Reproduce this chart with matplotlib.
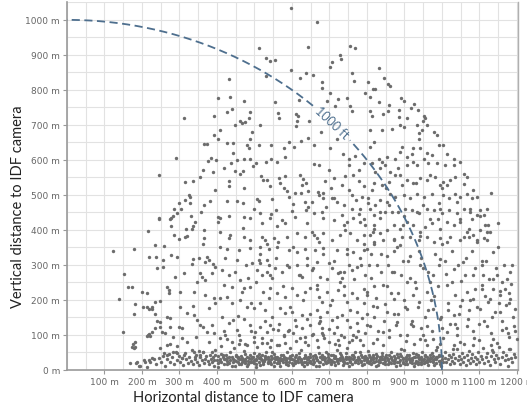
import numpy as np
import matplotlib.pyplot as plt

# detections (horizontal m, vertical m)
far_pts = [(312,720),(392,726),(403,777),(597,1034),(667,994),(512,920),(531,891),(541,883),(555,886),
           (643,923),(755,926),(768,920),(728,900),(731,889),(707,880),(701,866),(597,857),(637,849),
           (656,843),(621,834),(432,831),(531,840),(760,849),(765,826),(680,823),(680,806),(803,823),
           (435,780),(472,769),(555,766),(619,771),(701,791),(723,774),(747,777),(795,791),(693,769),
           (715,754),(755,754),(760,740),(427,737),(440,746),(488,737),(485,720),(563,734),(565,720),
           (611,731),(616,726),(645,711),(613,711),(461,711),(475,709),(832,863),(845,834),(856,817),
           (861,811),(816,803),(821,803),(808,780),(832,766),(891,777),(899,769),(925,760),(917,749),
           (936,743),(859,757),(856,740),(843,731),(808,740),(813,726),(885,743),(885,723),(907,720),
           (952,726),(955,720),(949,711)]

left_upper = [(392,671),(403,660),(365,646),(373,646),(291,606),(384,606),(376,597),(397,600),(363,571),
              (389,566),(355,551),(245,557),(315,537),(336,540),(395,514),(325,500),(328,494),(315,486),
              (299,477),(381,483),(365,471),(328,477),(285,460),(304,460),(293,449),(283,440),(277,434),
              (275,431),(245,431),(357,451),(331,440),(341,423),(336,411),(333,403),(277,411),(317,403),
              (216,397),(365,400),(285,386),(315,380),(320,383),(299,374),(365,377),(363,360),(235,357),
              (259,354),(403,437),(403,423)]

left_lower = [(124,340),(180,346),(220,322),(238,322),(256,314),(277,328),(293,322),(240,290),(256,293),
              (289,267),(311,278),(336,317),(351,319),(373,322),(380,314),(369,309),(389,302),(396,295),
              (333,302),(354,278),(360,267),(369,257),(387,276),(151,274),(164,238),(173,236),(267,236),
              (271,228),(271,219),(302,224),(200,224),(213,219),(347,250),(338,224),(369,214),(391,205),
              (140,203),(182,188),(204,179),(218,173),(227,181),(236,195),(302,181),(336,184),(378,176),
              (396,190),(178,160),(236,159),(267,152),(276,149),(320,162),(338,157),(347,143),(356,128),
              (364,124),(298,124),(307,119),(276,124),(249,138),(236,119),(218,102),(213,97),(227,109),
              (373,109),(391,105),(387,128),(149,108),(253,109),(262,105),(284,95),(307,92),(320,81),
              (182,81),(182,67),(178,64),(267,71),(276,73),(293,69),(249,62),(258,48),(267,43),(284,52),
              (293,48),(338,52),(351,54),(364,52),(356,43),(342,38),(311,43),(307,33),(387,52),(396,43),
              (391,29),(169,19),(187,24),(191,12),(209,24),(218,29),(227,33),(245,434),(176,74),(173,66),
              (240,140),(248,123),(248,197),(216,100),(221,97),(213,180),(227,174),(380,80),(345,95)]

mid_upper = [(407,685),(449,699),(467,704),(493,679),(489,659),(516,699),(512,642),(480,642),(486,633),
             (544,642),(578,635),(591,652),(606,638),(625,655),(642,664),(658,642),(610,698),(678,680),
             (720,659),(702,633),(736,618),(751,604),(769,611),(751,585),(778,571),(791,590),(418,576),
             (427,647),(444,647),(442,621),(438,590),(453,599),(471,604),(489,604),(505,590),(496,583),
             (532,595),(544,604),(560,595),(582,607),(469,568),(462,559),(449,568),(518,555),(523,542),
             (533,542),(566,547),(569,533),(582,555),(622,557),(629,545),(637,535),(660,587),(671,585),
             (698,571),(687,539),(711,549),(742,555),(764,557),(778,539),(791,526),(431,539),(431,526),
             (473,520),(542,526),(578,521),(587,512),(609,506),(627,528),(642,512),(669,509),(673,500),
             (684,506),(711,490),(733,528),(751,514),(772,485),(788,495),(804,476),(427,482),(453,482),
             (469,478),(507,488),(511,482),(547,488),(558,457),(591,493),(604,473),(636,481),(653,481),
             (644,466),(684,490),(707,492),(720,481),(738,471),(760,461),(782,460),(407,433),(431,440),
             (473,438),(489,433),(516,447),(542,433),(573,428),(582,421),(609,438),(637,457),(658,447),
             (680,452),(684,433),(711,428),(733,442),(747,423),(764,433),(782,423),(796,414),(409,395),
             (436,385),(431,376),(471,381),(489,371),(520,381),(529,371),(533,361),(551,376),(564,366),
             (587,381),(613,390),(636,381),(653,395),(658,385),(667,376),(671,366),(684,390),(707,371),
             (729,385),(742,400),(756,390),(773,371),(791,385),(791,361),(520,420),(560,410),(600,455),
             (640,420),(690,465),(740,415),(780,445),(500,460),(470,405),(545,445),(625,505),(705,520),
             (760,500)]

right_upper = [(809,685),(818,652),(809,638),(840,685),(867,688),(889,699),(900,695),(933,699),(947,685),
               (960,699),(978,680),(987,671),(991,642),(1004,642),(938,676),(938,661),(893,638),(889,623),
               (924,633),(920,618),(942,633),(960,621),(973,614),(907,609),(876,604),(853,609),(831,604),
               (840,595),(1013,618),(1033,602),(1049,595),(1031,585),(1009,585),(987,590),(964,590),
               (951,604),(933,585),(924,595),(907,585),(884,576),(876,558),(862,566),(849,585),(836,576),
               (822,566),(813,590),(1058,561),(1067,552),(1036,552),(1022,542),(1004,538),(996,528),
               (1013,528),(982,552),(969,557),(960,542),(942,547),(924,533),(907,542),(889,557),(893,528),
               (858,538),(840,528),(818,533),(813,514),(804,490),(1084,514),(1093,495),(1080,490),
               (1067,504),(1049,495),(1036,504),(1018,490),(1004,500),(991,476),(973,504),(951,495),
               (933,504),(916,490),(898,500),(876,495),(862,504),(853,480),(836,485),(822,471),(809,459),
               (1102,457),(1111,442),(1093,442),(1076,452),(1058,461),(1040,447),(1018,457),(1000,447),
               (978,457),(960,461),(938,447),(920,457),(902,461),(884,452),(867,452),(849,452),(836,433),
               (818,442),(1116,414),(1120,395),(1102,400),(1084,385),(1071,404),(1049,423),(1031,414),
               (1013,423),(996,404),(973,419),(956,409),(942,395),(924,414),(907,423),(889,404),(871,414),
               (853,400),(836,390),(818,404),(809,385),(1111,376),(1093,371),(1071,381),(1049,371),
               (1022,381),(996,376),(978,366),(960,381),(938,371),(916,381),(893,381),(871,371),(844,371),
               (818,366),(820,415),(860,470),(900,440),(950,470),(990,430),(1040,480),(1080,430),
               (1120,460),(1150,420),(850,520),(930,535),(1000,520),(1060,530),(1130,505)]

mid_lower = [(407,352),(427,347),(458,343),(489,349),(516,352),(538,347),(560,352),(591,343),(613,338),
             (636,347),(662,343),(684,349),(720,343),(747,347),(764,338),(791,343),(422,319),(453,314),
             (493,305),(511,314),(516,305),(533,314),(538,300),(507,286),(520,271),(533,281),(542,271),
             (556,290),(573,281),(591,295),(613,300),(618,271),(627,267),(640,300),(653,286),(667,309),
             (676,267),(698,305),(707,290),(724,276),(733,262),(738,281),(729,252),(751,300),(760,286),
             (773,295),(782,319),(796,271),(413,286),(431,271),(449,281),(462,257),(484,262),(418,243),
             (440,238),(471,233),(489,238),(524,224),(542,233),(560,219),(582,209),(600,233),(613,214),
             (636,224),(649,233),(667,243),(671,209),(680,195),(693,224),(707,200),(724,228),(738,214),
             (747,195),(760,219),(773,205),(791,190),(800,214),(409,205),(427,209),(440,190),(462,200),
             (480,181),(498,176),(516,190),(529,171),(547,152),(569,176),(582,162),(600,167),(609,143),
             (627,157),(640,147),(649,128),(667,171),(676,152),(671,133),(680,119),(693,167),(707,143),
             (720,124),(733,157),(747,143),(756,124),(773,167),(787,148),(800,128),(413,152),(431,133),
             (444,143),(453,114),(471,147),(489,128),(502,109),(516,124),(533,109),(542,128),(564,114),
             (578,100),(591,114),(604,105),(622,90),(636,95),(653,100),(667,86),(684,100),(698,81),
             (711,105),(724,86),(738,95),(751,81),(764,100),(782,86),(796,105),(409,90),(422,100),
             (440,81),(462,86),(480,71),(498,81),(520,76),(542,67),(560,71),(582,76),(412,68),(428,88),
             (446,62),(458,100),(474,74),(490,112),(506,66),(520,92),(534,78),(550,118),(566,70),(580,96),
             (596,64),(612,84),(626,120),(642,72),(656,104),(670,66),(686,90),(700,118),(716,74),(730,100),
             (746,64),(760,86),(776,112),(790,70),(455,155),(468,222),(478,300),(492,190),(503,250),
             (515,330),(527,140),(538,205),(548,262),(557,320),(566,130),(575,240),(586,300),(595,180),
             (604,350),(612,125),(621,270),(630,200),(639,320),(648,160),(657,290),(666,230),(675,140),
             (684,330),(693,260),(702,185),(711,310),(720,150),(729,280),(738,240),(747,330),(756,170),
             (765,260),(774,135),(783,300),(792,230),(460,75),(500,95),(545,85),(590,110),(635,80),
             (680,105),(725,70),(770,95),(420,110)]

right_lower = [(1168,232),(1182,203),(1195,175),(1191,127),(1200,89),(1182,60),(1177,32),(1137,337),
               (1146,270),(1128,394),(1124,413),(1155,213),(1173,260),(1160,113),(1137,89),(1120,127),
               (1102,175),(1084,203),(1066,222),(1048,184),(1031,156),(1013,242),(1031,289),(1057,308),
               (1084,270),(1106,299),(1093,365),(1066,394),(1048,432),(1102,441),(1075,460),(1048,80),
               (1084,70),(1137,51),(1066,127),(1013,108),(1031,70),(1155,165),(1128,203),(1182,280),
               (1137,232),(1106,242),(1013,365),(995,318),(977,270),(960,222),(977,175),(995,146),(960,127),
               (977,89),(942,89),(924,127),(906,175),(924,213),(906,251),(942,299),(915,327),(888,356),
               (942,384),(968,432),(995,460),(933,451),(897,413),(871,375),(853,327),(871,280),(844,242),
               (871,203),(853,165),(879,137),(844,108),(888,99),(826,89),(808,127),(817,184),(799,222),
               (826,299),(799,346),(817,394),(791,432),(835,451),(805,300),(812,262),(818,150),(824,205),
               (830,110),(838,330),(842,70),(848,188),(853,240),(860,95),(866,280),(872,160),(878,128),
               (884,220),(890,60),(896,310),(902,180),(908,100),(914,262),(920,140),(926,75),(932,235),
               (938,195),(944,120),(950,290),(956,85),(962,170),(968,250),(974,110),(980,210),(986,65),
               (992,300),(998,150),(1004,90),(1010,275),(1016,190),(1022,130),(1028,340),(1034,215),
               (1040,100),(1046,160),(1052,255),(1058,75),(1064,320),(1070,145),(1076,200),(1082,110),
               (1088,290),(1094,180),(1100,85),(1106,230),(1112,140),(1118,310),(1124,195),(1130,105),
               (1136,260),(1142,165),(1148,78),(1154,225),(1160,140),(1166,300),(1172,185),(1178,95),
               (1184,245),(1190,150),(1196,110),(1150,350),(1120,370),(1060,380),(1000,360),(940,340),
               (880,350),(820,360),(1180,190),(1110,270),(1030,60),(960,72),(801,160),(810,330),(819,240),
               (828,180),(837,280),(846,140),(855,300),(864,220),(873,340),(882,160),(891,270),(900,200),
               (909,310),(918,130),(927,250),(936,180),(945,320),(954,150),(963,280),(972,200),(981,330),
               (990,240),(999,120),(1008,310),(1017,170),(1026,250),(1035,130),(1044,300),(1053,200),
               (1062,270),(1071,170),(1080,340),(1089,230),(1098,130),(1107,310),(1116,210),(1125,260),
               (1134,150),(1143,290),(1152,190),(1161,250),(1170,120),(1179,220),(1188,300),(815,78),
               (860,115),(905,82),(950,100),(995,75),(1040,120),(1085,92),(1130,70),(1175,105)]

# dense strip of detections close to the ground
ground_a = [(185,20),(196,12),(205,28),(214,8),(222,24),(231,30),(238,16),(246,34),(252,22),(257,40),
            (262,12),(268,30),(272,46),(276,24),(281,36),(286,18),(290,52),(294,28),(298,40),(302,22),
            (306,34),(310,14),(314,48),(318,30),(322,20),(326,38),(330,26),(333,56),(337,18),(341,32),
            (345,42),(348,24),(352,14),(355,36),(359,28),(362,50),(366,20),(369,32),(372,40),(375,26),
            (378,16),(381,44),(384,30),(387,22),(390,36),(393,12),(396,58),(399,28),(402,40),(404,20),
            (407,32),(410,46),(412,24),(415,36),(418,16),(420,30),(423,42),(426,26),(428,34),(431,20),
            (434,50),(436,28),(439,38),(442,22),(444,32),(447,12),(450,44),(452,26),(455,36),(458,18),
            (460,30),(463,40),(466,24),(468,34),(471,54),(474,20),(476,30),(479,38),(482,26),(484,16),
            (487,44),(490,32),(492,22),(495,36),(498,28),(500,48),(503,18),(505,32),(508,40),(511,24),
            (513,34),(516,14),(519,28),(521,42),(524,22),(527,36),(529,30),(532,52),(535,20),(537,32),
            (540,26),(543,40),(545,16),(548,34),(551,24),(553,46),(556,30),(559,20),(561,38),(564,28),
            (567,10),(569,34),(572,44),(575,22),(577,30),(580,38),(583,18),(585,28),(588,50),(591,24),
            (593,34),(596,40),(599,20),(601,30),(604,14),(607,36),(609,26),(612,44),(615,32),(617,22),
            (620,38),(623,28),(625,56),(628,18),(631,34),(633,24),(636,42),(639,30),(641,16),(644,38),
            (647,26),(649,46),(652,20),(655,32),(657,40),(660,24),(663,34),(665,12),(668,28),(671,48),
            (673,22),(676,36),(679,30),(681,42),(684,18),(687,26),(689,34),(692,52),(695,24),(697,38),
            (700,30),(703,16),(705,44),(708,26),(711,34),(713,22),(716,40),(719,30),(721,58),(724,20),
            (727,34),(729,28),(732,44),(735,14),(737,32),(740,24),(743,38),(745,48),(748,20),(751,30),
            (753,36),(756,26),(759,42),(761,18),(764,32),(767,24),(769,50),(772,28),(775,38),(777,20),
            (780,32),(783,44),(785,26),(788,14),(791,36),(793,28),(796,40),(799,22),(801,34),(804,54),
            (807,26),(809,38),(812,18),(815,30),(817,44),(820,24),(823,34),(825,12),(828,40),(831,28),
            (833,22),(836,36),(839,48),(841,30),(844,20),(847,38),(849,26),(852,42),(855,16),(857,32),
            (860,24),(863,50),(865,34),(868,28),(871,40),(873,20),(876,30),(879,46),(881,24),(884,36),
            (887,14),(889,28),(892,40),(895,22),(897,34),(900,56),(903,26),(905,38),(908,18),(911,30),
            (913,44),(916,24),(919,34),(921,28),(924,48),(927,20),(929,36),(932,26),(935,42),(937,16),
            (940,30),(943,38),(945,24),(948,52),(951,32),(953,20),(956,40),(959,28),(961,36),(964,14),
            (967,44),(969,26),(972,34),(975,22),(977,40),(980,30),(983,58),(985,20),(988,36),(991,26),
            (993,44),(996,18),(999,32),(1001,40),(1004,24),(1007,34),(1009,50),(1012,22),(1015,30),
            (1018,42),(1021,16),(1024,36),(1027,26),(1030,46),(1033,20),(1036,34),(1039,60),(1042,28),
            (1045,40),(1048,18),(1051,32),(1054,48),(1057,24),(1060,36),(1063,14),(1066,42),(1069,28),
            (1072,54),(1075,20),(1078,34),(1081,46),(1084,26),(1088,38),(1091,16),(1094,30),(1097,52),
            (1100,24),(1104,40),(1107,32),(1110,62),(1113,20),(1117,36),(1120,48),(1124,26),(1127,14),
            (1131,40),(1134,58),(1138,30),(1142,22),(1145,44),(1149,34),(1153,66),(1156,18),(1160,38),
            (1164,50),(1168,28),(1172,42),(1176,12),(1180,60),(1184,34),(1188,24),(1192,46),(1196,36)]

ground_b = [(403,8),(409,26),(415,44),(421,30),(427,18),(433,36),(439,10),(445,28),(451,40),(457,34),
            (463,16),(469,28),(475,46),(481,12),(487,24),(493,38),(499,20),(505,8),(511,46),(517,30),
            (523,18),(529,40),(535,36),(541,22),(547,50),(553,10),(559,32),(565,20),(571,28),(577,44),
            (583,34),(589,14),(595,30),(601,42),(607,20),(613,26),(619,48),(625,32),(631,12),(637,22),
            (643,30),(649,36),(655,18),(661,44),(667,28),(673,10),(679,40),(685,32),(691,20),(697,46),
            (703,28),(709,42),(715,14),(721,26),(727,48),(733,36),(739,20),(745,30),(751,10),(757,34),
            (763,44),(769,22),(775,28),(781,50),(787,36),(793,16),(799,28),(805,42),(811,32),(817,22),
            (823,46),(829,14),(835,30),(841,40),(847,18),(853,34),(859,44),(865,20),(871,26),(877,12),
            (883,38),(889,46),(895,30),(901,16),(907,42),(913,34),(919,20),(925,10),(931,46),(937,38),
            (943,16),(949,28),(955,44),(961,24),(967,34),(973,48),(979,14),(985,30),(991,40),(997,12)]

ground_c = [(455,24),(465,32),(475,26),(485,34),(495,22),(505,28),(515,36),(525,26),(535,24),(545,30),
            (555,38),(565,26),(575,32),(585,22),(595,36),(605,28),(615,34),(625,24),(635,38),(645,22),
            (655,28),(665,36),(675,24),(685,38),(695,28),(705,22),(715,34),(725,30),(735,26),(745,36),
            (755,22),(765,38),(775,30),(785,24),(795,32),(805,20),(815,36),(825,26),(835,22),(845,32),
            (855,28),(865,38),(875,34),(885,24),(895,20),(905,32),(915,28),(925,36),(935,24),(945,32),
            (955,22),(965,30),(975,28),(985,36),(995,26)]

radius_m = 1000
radius_label = "1000 ft"
x_ticks = [100, 200, 300, 400, 500, 600, 700, 800, 900, 1000, 1100, 1200]
y_ticks = [0, 100, 200, 300, 400, 500, 600, 700, 800, 900, 1000]

pts = np.array(far_pts + left_upper + left_lower + mid_upper + right_upper + mid_lower +
               right_lower + ground_a + ground_b + ground_c, dtype=float)

fig = plt.figure(figsize=(5.27, 4.10), dpi=100)
ax = fig.add_axes([67/527, 1 - 371/410, 451/527, 368/410])

grid_c = '#e2e2e2'
ax.set_xticks(np.arange(0, 1201, 50), minor=True)
ax.set_yticks(np.arange(0, 1051, 50), minor=True)
ax.grid(True, which='both', color=grid_c, lw=0.8)
ax.set_axisbelow(True)

ax.scatter(pts[:, 0], pts[:, 1], s=6, color='#6c6c6c', linewidths=0, zorder=3)

# 1000 ft ring, broken where the label sits
circ_c = '#4e6f8e'
for a0, a1 in [(0, 41), (49, 90)]:
    t = np.radians(np.linspace(a0, a1, 200))
    ax.plot(radius_m * np.cos(t), radius_m * np.sin(t), color=circ_c, lw=1.3,
            dashes=(4.5, 2.5), zorder=4)
ta = np.radians(45)
ax.text(radius_m * np.cos(ta), radius_m * np.sin(ta), radius_label, rotation=-43,
        ha='center', va='center', color=circ_c, fontsize=9, family='Lato',
        rotation_mode='anchor', zorder=5)

ax.set_xlim(0, 1203)
ax.set_ylim(0, 1051)
ax.set_xticks(x_ticks)
ax.set_xticklabels([f"{v} m" for v in x_ticks])
ax.set_yticks(y_ticks)
ax.set_yticklabels([f"{v} m" for v in y_ticks])
ax.tick_params(axis='both', which='major', labelsize=6.5, labelcolor='#666666',
               color='#999999', length=3, width=0.8, pad=2)
ax.tick_params(axis='both', which='minor', length=0)

for s in ['left', 'bottom']:
    ax.spines[s].set_color('#9a9a9a')
    ax.spines[s].set_linewidth(1.2)
ax.spines['right'].set_color('#b0b0b0')
ax.spines['right'].set_linewidth(1.0)
ax.spines['top'].set_visible(False)

fig.text(243/527, 1 - 398/410, "Horizontal distance to IDF camera", ha='center', va='center',
         fontsize=10.5, family='Lato', color='#222222')
fig.text(18/527, 1 - 207/410, "Vertical distance to IDF camera", ha='center', va='center',
         rotation=90, fontsize=10.5, family='Lato', color='#222222')

fig.savefig('out.png', dpi=100)
